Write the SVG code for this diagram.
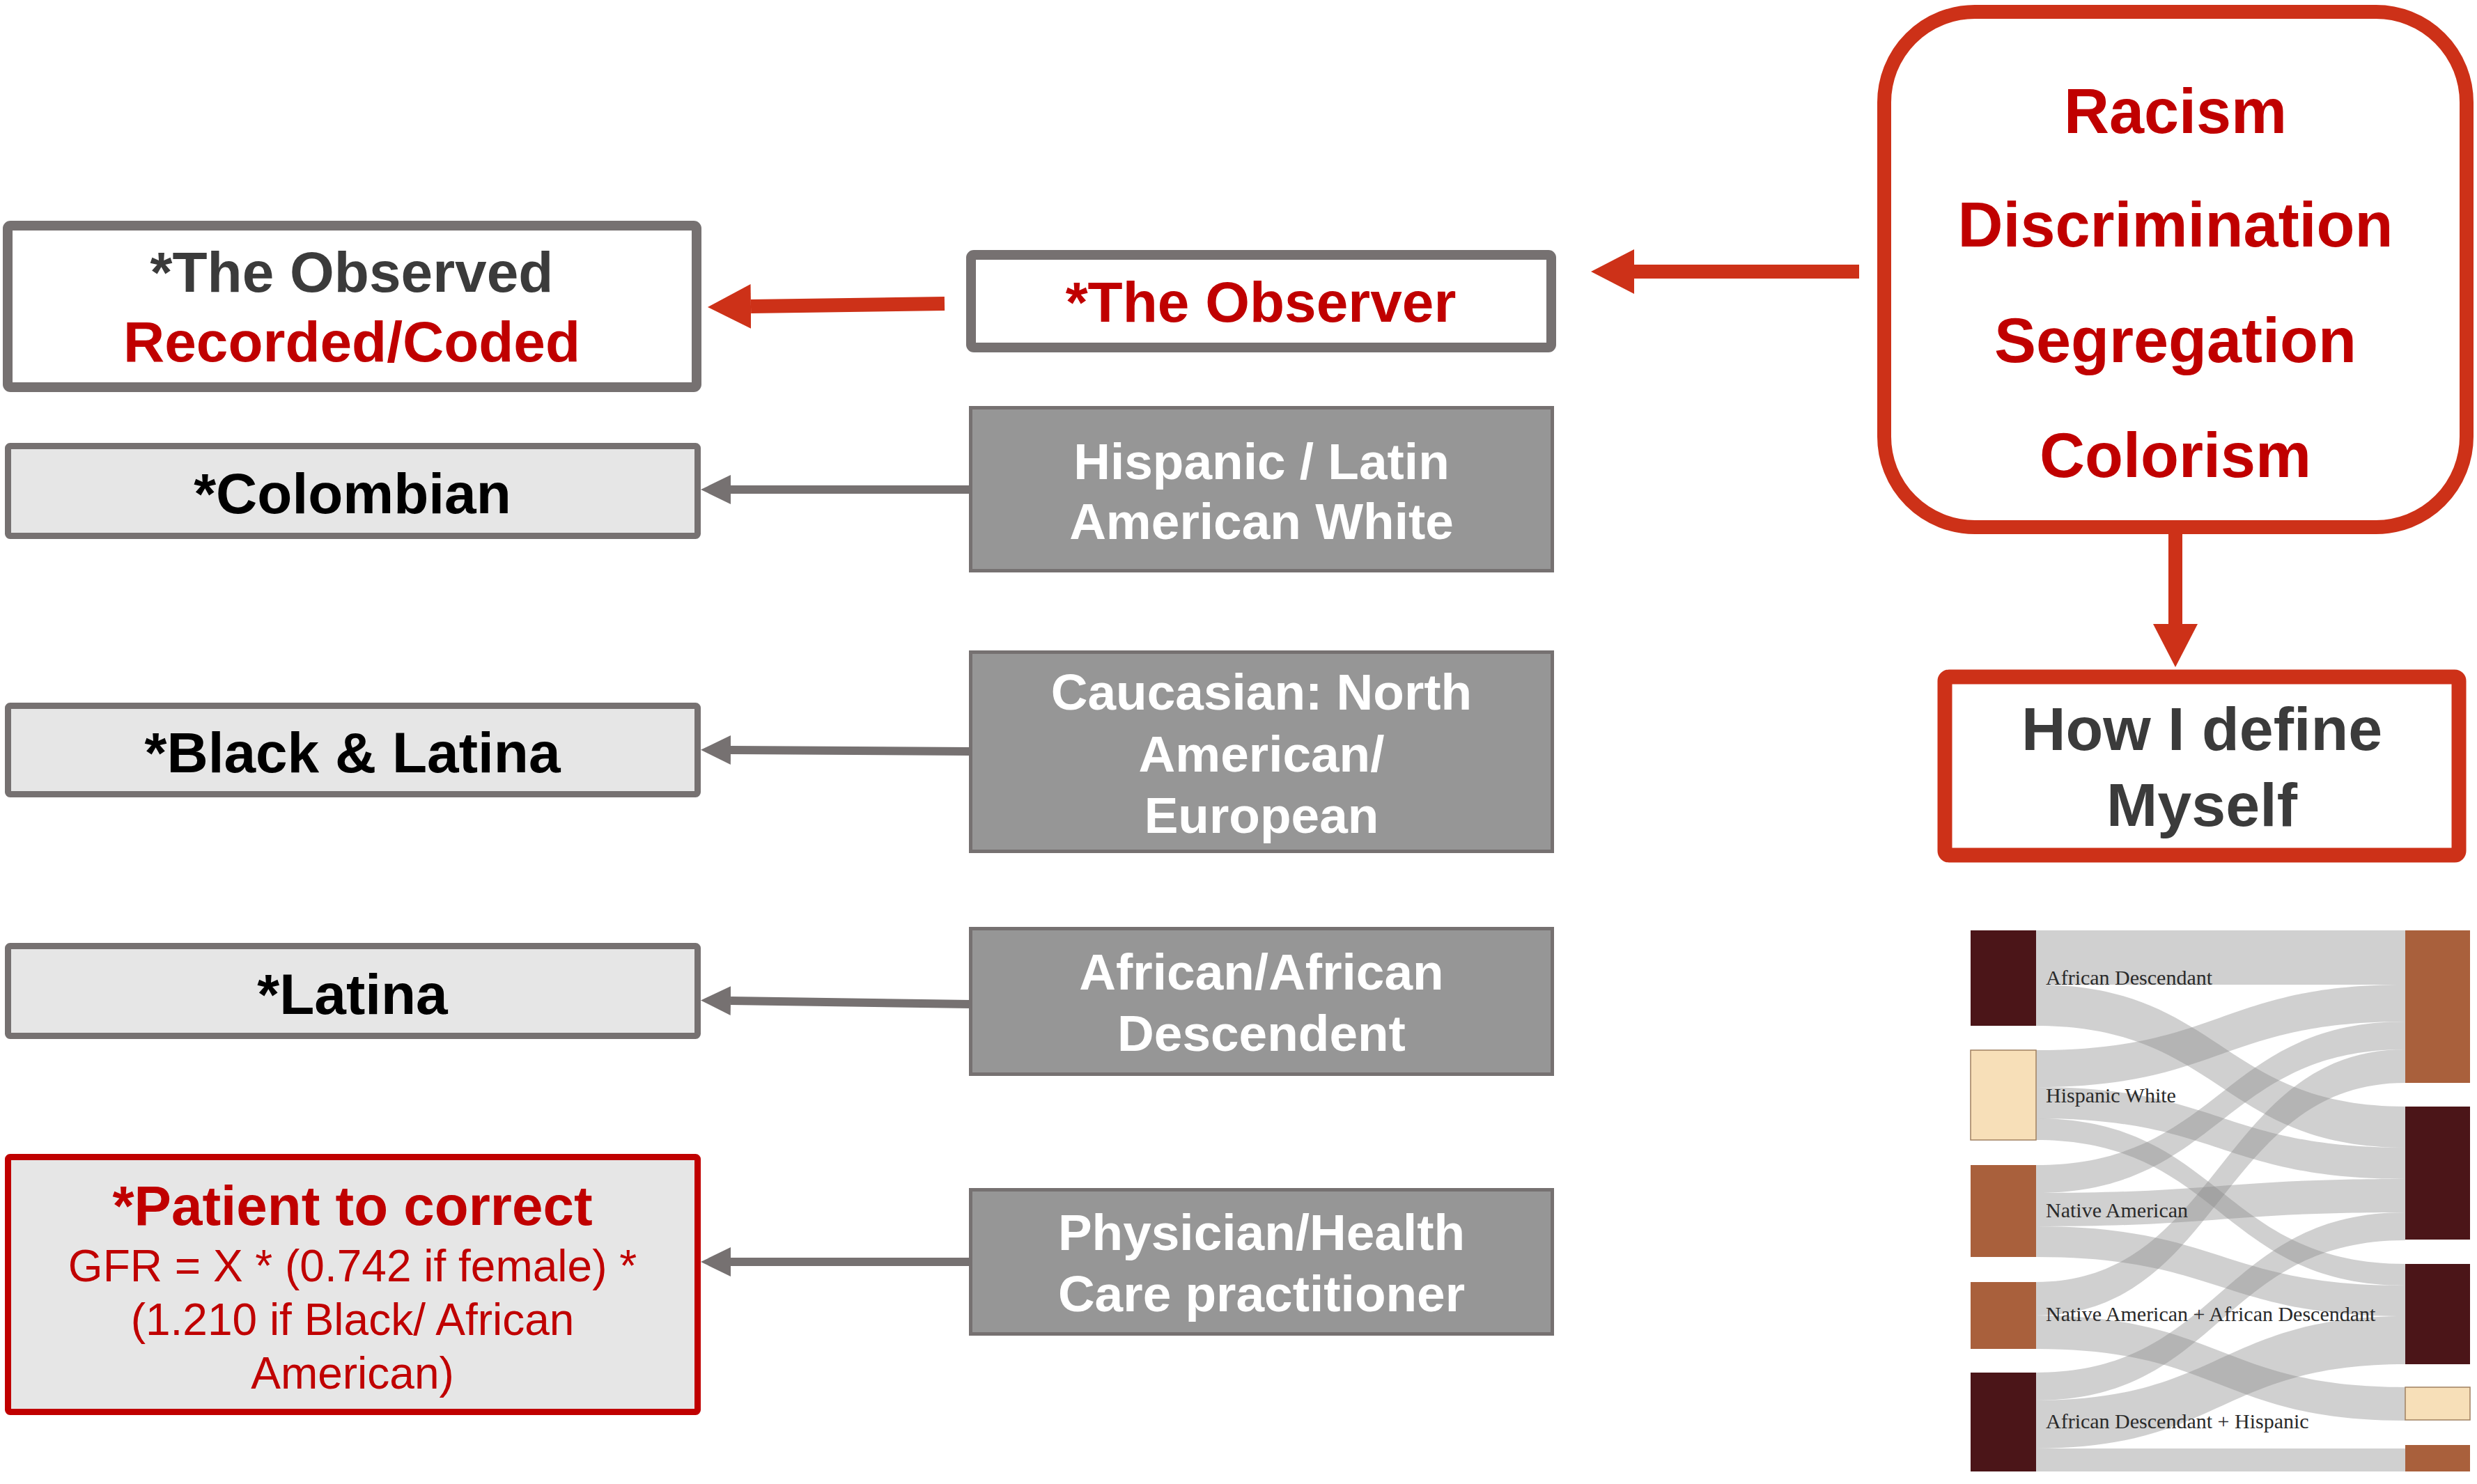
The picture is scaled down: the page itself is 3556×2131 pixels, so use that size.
<svg xmlns="http://www.w3.org/2000/svg" width="3556" height="2131" viewBox="0 0 3556 2131">
<style>
.b{font-family:"Liberation Sans",Arial,sans-serif;font-weight:bold;text-anchor:middle}
.r{font-family:"Liberation Sans",Arial,sans-serif;text-anchor:middle}
.wbox{fill:#ffffff;stroke:#767171;stroke-width:14}
.lbox{fill:#e6e6e6;stroke:#767171;stroke-width:9}
.gbox{fill:#969696;stroke:#767171;stroke-width:5}
.wt{fill:#ffffff;font-size:73px}
.bt{fill:#000000;font-size:82px}
.red{fill:#c00000}
.dk{fill:#3b3b3b}
.glink{stroke:#767171;stroke-width:12;fill:none;marker-end:url(#ga)}
.rlink{stroke:#cd3118;stroke-width:20;fill:none;marker-end:url(#ra)}
.flow{fill:#8a8a8a;opacity:0.4}
.sl{font-family:"Liberation Serif","Times New Roman",serif;font-size:30px;fill:#2a2a2a}
.nd{fill:#4b1518}
.nb{fill:#a9603c}
.nl{fill:#f7dfb8;stroke:#a08060;stroke-width:1.5}
</style>
<defs>
<marker id="ga" markerUnits="userSpaceOnUse" viewBox="0 0 43 42" markerWidth="43" markerHeight="42" refX="0" refY="21" orient="auto"><path d="M0,0 L43,21 L0,42 Z" fill="#767171"/></marker>
<marker id="ra" markerUnits="userSpaceOnUse" viewBox="0 0 62 64" markerWidth="62" markerHeight="64" refX="0" refY="32" orient="auto"><path d="M0,0 L62,32 L0,64 Z" fill="#cd3118"/></marker>
</defs>
<rect width="3556" height="2131" fill="#ffffff"/>

<g id="connectors">
<line class="rlink" x1="1356" y1="436" x2="1078" y2="440"/>
<line class="rlink" x1="2669" y1="390" x2="2346" y2="390"/>
<line class="rlink" x1="3123" y1="767" x2="3123" y2="896"/>
<line class="glink" x1="1393" y1="703" x2="1049" y2="703"/>
<line class="glink" x1="1393" y1="1079" x2="1049" y2="1077"/>
<line class="glink" x1="1393" y1="1442" x2="1049" y2="1437"/>
<line class="glink" x1="1393" y1="1812" x2="1049" y2="1812"/>
</g>

<g id="observed">
<rect class="wbox" x="11" y="324" width="989" height="232" rx="4"/>
<text class="b dk" x="505" y="419" font-size="82">*The Observed</text>
<text class="b red" x="505" y="519" font-size="82">Recorded/Coded</text>
</g>

<g id="observer">
<rect class="wbox" x="1394" y="366" width="833" height="133" rx="4"/>
<text class="b red" x="1810" y="462" font-size="82">*The Observer</text>
</g>

<g id="forces">
<rect x="2705" y="17" width="836" height="740" rx="130" fill="#ffffff" stroke="#cd3118" stroke-width="20"/>
<text class="b red" x="3123" y="191" font-size="90">Racism</text>
<text class="b red" x="3123" y="354" font-size="90">Discrimination</text>
<text class="b red" x="3123" y="520" font-size="90">Segregation</text>
<text class="b red" x="3123" y="685" font-size="90">Colorism</text>
</g>

<g id="self">
<rect x="2792" y="972" width="738" height="256" rx="6" fill="#ffffff" stroke="#cd3118" stroke-width="21"/>
<text class="b dk" x="3161" y="1077" font-size="88">How I define</text>
<text class="b dk" x="3161" y="1186" font-size="88">Myself</text>
</g>

<g id="colombian">
<rect class="lbox" x="11.5" y="640.5" width="990" height="129" rx="3"/>
<text class="b bt" x="506" y="737">*Colombian</text>
</g>

<g id="blacklatina">
<rect class="lbox" x="11.5" y="1013.5" width="990" height="127" rx="3"/>
<text class="b bt" x="506" y="1109">*Black &amp; Latina</text>
</g>

<g id="latina">
<rect class="lbox" x="11.5" y="1358.5" width="990" height="129" rx="3"/>
<text class="b bt" x="506" y="1456">*Latina</text>
</g>

<g id="patient">
<rect x="11.5" y="1661.5" width="990" height="366" rx="3" fill="#e6e6e6" stroke="#c00000" stroke-width="9"/>
<text class="b red" x="506" y="1759" font-size="80">*Patient to correct</text>
<text class="r red" x="506" y="1840" font-size="64">GFR = X * (0.742 if female) *</text>
<text class="r red" x="506" y="1917" font-size="64">(1.210 if Black/ African</text>
<text class="r red" x="506" y="1994" font-size="64">American)</text>
</g>

<g id="hispanic">
<rect class="gbox" x="1393.5" y="585.5" width="835" height="234"/>
<text class="b wt" x="1811" y="688">Hispanic / Latin</text>
<text class="b wt" x="1811" y="774">American White</text>
</g>

<g id="caucasian">
<rect class="gbox" x="1393.5" y="936.5" width="835" height="286"/>
<text class="b wt" x="1811" y="1019">Caucasian: North</text>
<text class="b wt" x="1811" y="1108">American/</text>
<text class="b wt" x="1811" y="1196">European</text>
</g>

<g id="african">
<rect class="gbox" x="1393.5" y="1333.5" width="835" height="209"/>
<text class="b wt" x="1811" y="1421">African/African</text>
<text class="b wt" x="1811" y="1509">Descendent</text>
</g>

<g id="physician">
<rect class="gbox" x="1393.5" y="1708.5" width="835" height="207"/>
<text class="b wt" x="1811" y="1795">Physician/Health</text>
<text class="b wt" x="1811" y="1883">Care practitioner</text>
</g>

<g id="sankey">
<path class="flow" d="M2923,1336 C3188,1336 3188,1336 3453,1336 L3453,1414 C3188,1414 3188,1414 2923,1414 Z"/>
<path class="flow" d="M2923,1414 C3188,1414 3188,1589 3453,1589 L3453,1648 C3188,1648 3188,1473 2923,1473 Z"/>
<path class="flow" d="M2923,1508 C3188,1508 3188,1414 3453,1414 L3453,1467 C3188,1467 3188,1561 2923,1561 Z"/>
<path class="flow" d="M2923,1561 C3188,1561 3188,1648 3453,1648 L3453,1693 C3188,1693 3188,1606 2923,1606 Z"/>
<path class="flow" d="M2923,1606 C3188,1606 3188,1815 3453,1815 L3453,1846 C3188,1846 3188,1637 2923,1637 Z"/>
<path class="flow" d="M2923,1673 C3188,1673 3188,1467 3453,1467 L3453,1507 C3188,1507 3188,1713 2923,1713 Z"/>
<path class="flow" d="M2923,1713 C3188,1713 3188,1693 3453,1693 L3453,1741 C3188,1741 3188,1761 2923,1761 Z"/>
<path class="flow" d="M2923,1761 C3188,1761 3188,1846 3453,1846 L3453,1890 C3188,1890 3188,1805 2923,1805 Z"/>
<path class="flow" d="M2923,1841 C3188,1841 3188,1507 3453,1507 L3453,1555 C3188,1555 3188,1889 2923,1889 Z"/>
<path class="flow" d="M2923,1889 C3188,1889 3188,1992 3453,1992 L3453,2040 C3188,2040 3188,1937 2923,1937 Z"/>
<path class="flow" d="M2923,1971 C3188,1971 3188,1741 3453,1741 L3453,1781 C3188,1781 3188,2011 2923,2011 Z"/>
<path class="flow" d="M2923,2011 C3188,2011 3188,1890 3453,1890 L3453,1959 C3188,1959 3188,2080 2923,2080 Z"/>
<path class="flow" d="M2923,2080 C3188,2080 3188,2080 3453,2080 L3453,2113 C3188,2113 3188,2113 2923,2113 Z"/>
<rect class="nd" x="2829" y="1336" width="94" height="137"/>
<rect class="nl" x="2829" y="1508" width="94" height="129"/>
<rect class="nb" x="2829" y="1673" width="94" height="132"/>
<rect class="nb" x="2829" y="1841" width="94" height="96"/>
<rect class="nd" x="2829" y="1971" width="94" height="142"/>
<rect class="nb" x="3453" y="1336" width="93" height="219"/>
<rect class="nd" x="3453" y="1589" width="93" height="191"/>
<rect class="nd" x="3453" y="1815" width="93" height="144"/>
<rect class="nl" x="3453" y="1992" width="93" height="47"/>
<rect class="nb" x="3453" y="2075" width="93" height="38"/>
<text class="sl" x="2937" y="1414">African Descendant</text>
<text class="sl" x="2937" y="1583">Hispanic White</text>
<text class="sl" x="2937" y="1748">Native American</text>
<text class="sl" x="2937" y="1897">Native American + African Descendant</text>
<text class="sl" x="2937" y="2051">African Descendant + Hispanic</text>
</g>
</svg>
